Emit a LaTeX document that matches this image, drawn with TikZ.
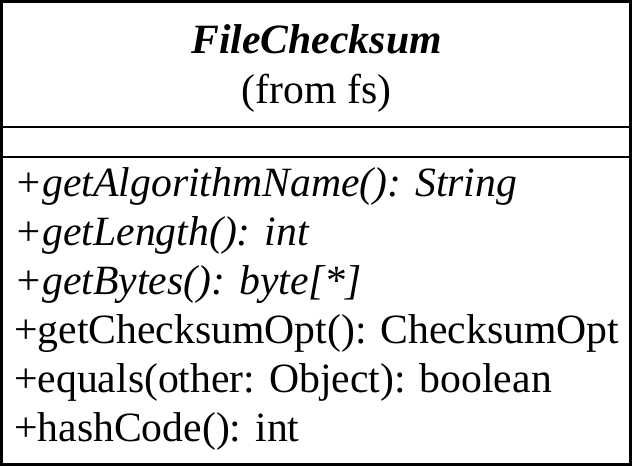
\documentclass[tikz,border=0pt]{standalone}
\usepackage{fontspec}
\setmainfont{Liberation Serif}
\begin{document}
\begin{tikzpicture}[x=1pt,y=-1pt,
  frame/.style={draw=black,line width=2.6pt},
  rule/.style={draw=black,line width=2.6pt},
  classname/.style={anchor=base,inner sep=0pt,font=\fontsize{41.7}{49}\selectfont\bfseries\itshape},
  pkgname/.style={anchor=base,inner sep=0pt,font=\fontsize{41.7}{49}\selectfont},
  opabstract/.style={anchor=base west,inner sep=0pt,font=\fontsize{41.7}{49}\selectfont\itshape},
  opconcrete/.style={anchor=base west,inner sep=0pt,font=\fontsize{41.7}{49}\selectfont}]
  \useasboundingbox (0,0) rectangle (633,466);
  % class box and compartment separators
  \draw[frame] (1.3,1.3) rectangle (630.2,464.2);
  \draw[rule] (1.3,127) -- (630.2,127);
  \draw[rule] (1.3,157) -- (630.2,157);
  % name compartment
  \node[classname] (name) at (316.5,53) {FileChecksum};
  \node[pkgname] (pkg) at (316.5,103) {(from fs)};
  % operations compartment
  \node[opabstract] (op1) at (14,196) {+getAlgorithmName(): String};
  \node[opabstract] (op2) at (14,245) {+getLength(): int};
  \node[opabstract] (op3) at (14,294) {+getBytes(): byte[*]};
  \node[opconcrete] (op4) at (14,343) {+getChecksumOpt(): ChecksumOpt};
  \node[opconcrete] (op5) at (14,392) {+equals(other: Object): boolean};
  \node[opconcrete] (op6) at (14,441) {+hashCode(): int};
\end{tikzpicture}
\end{document}
